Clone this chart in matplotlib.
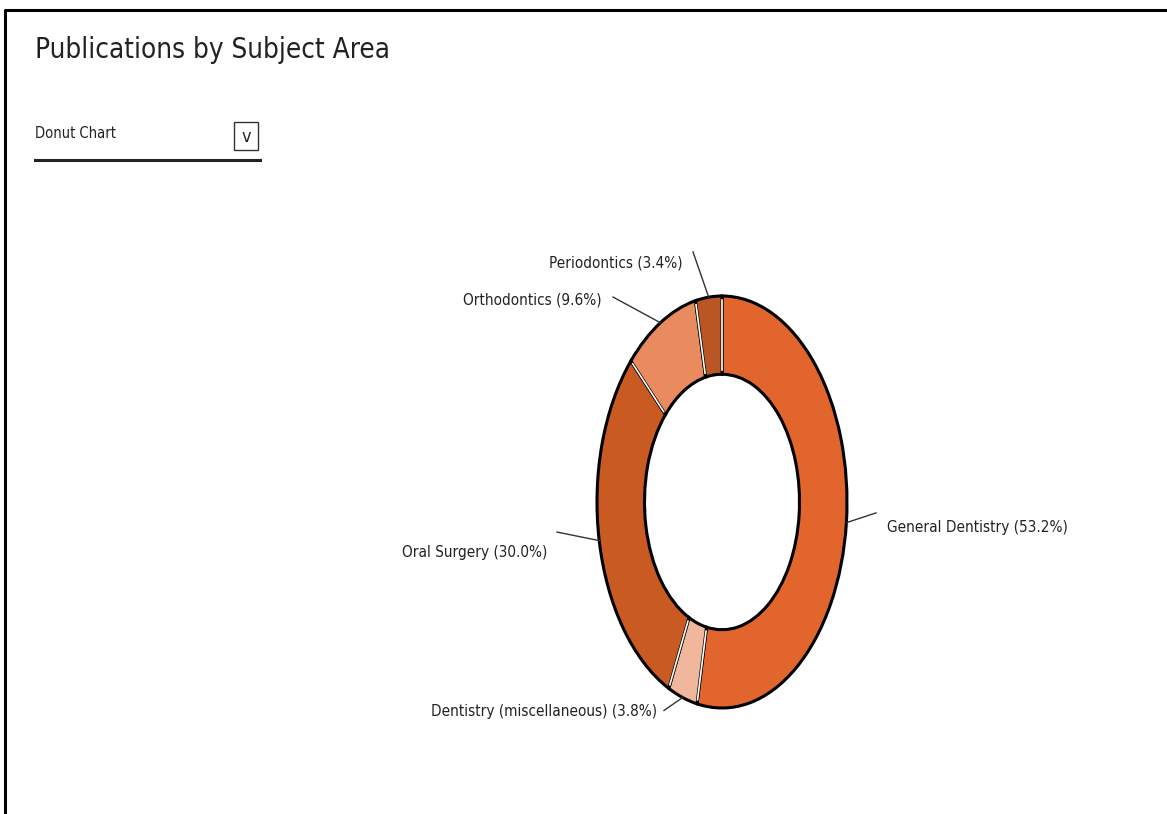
import numpy as np
import matplotlib.pyplot as plt
from matplotlib.patches import Rectangle

# subject areas, clockwise from 12 o'clock
subjects = ['General Dentistry', 'Dentistry (miscellaneous)', 'Oral Surgery',
            'Orthodontics', 'Periodontics']
shares = [53.2, 3.8, 30.0, 9.6, 3.4]
colors = ['#E2652D', '#F0B79D', '#C95B22', '#E98B5F', '#BA5524']

# where each label / leader line ends (data coords of the pie axes)
label_pos = [(1.32, -0.126, 'left'), (-0.52, -1.019, 'right'), (-1.40, -0.243, 'right'),
             (-0.96, 0.981, 'right'), (-0.312, 1.160, 'right')]
line_end = [(1.232, -0.053), (-0.464, -1.012), (-1.32, -0.146),
            (-0.872, 0.995), (-0.232, 1.214)]

font = dict(family='DejaVu Sans', stretch='condensed', color='#222222')

fig = plt.figure(figsize=(11.67, 8.14), dpi=100)
W, H = 1167, 814

# screenshot frame (top and left edges only)
fig.add_artist(plt.Line2D([5 / W, 5 / W, 1], [0, 1 - 10 / H, 1 - 10 / H],
                          color='black', linewidth=2.2, transform=fig.transFigure))

fig.text(35 / W, 1 - 50 / H, 'Publications by Subject Area', fontsize=20,
         va='center', ha='left', **font)
fig.text(35 / W, 1 - 133 / H, 'Donut Chart', fontsize=10.5, va='center', ha='left', **font)
fig.add_artist(plt.Line2D([35 / W, 260 / W], [1 - 160 / H, 1 - 160 / H],
                          color='#222222', linewidth=2.2, transform=fig.transFigure))
fig.patches.append(Rectangle((234 / W, 1 - 150 / H), 24 / W, 28 / H, transform=fig.transFigure,
                             fill=False, edgecolor='#333333', linewidth=1))
fig.text(246 / W, 1 - 137 / H, 'v', fontsize=13, va='center', ha='center', **font)

# donut axes: ellipse centre (722, 502), radii 125 x 206 px
cx, cy, rx, ry = 722, 502, 125, 206
ring = 0.38
ax = fig.add_axes([(cx - 1.25 * rx) / W, (H - cy - 1.25 * ry) / H, 2.5 * rx / W, 2.5 * ry / H])
wedges, _ = ax.pie(shares, colors=colors, startangle=90, counterclock=False,
                   wedgeprops=dict(width=ring, edgecolor='black', linewidth=2.2))
ax.set_aspect('auto')
ax.set_xlim(-1.25, 1.25)
ax.set_ylim(-1.25, 1.25)
ax.axis('off')

# thin white gap along each slice boundary
for w in wedges:
    a = np.deg2rad(w.theta1)
    r = np.array([1 - ring + 0.02, 0.98])
    ax.plot(r * np.cos(a), r * np.sin(a), color='white', linewidth=1.2)

for w, name, share, (tx, ty, ha), (ex, ey) in zip(wedges, subjects, shares, label_pos, line_end):
    mid = np.deg2rad((w.theta1 + w.theta2) / 2)
    sx, sy = np.cos(mid), np.sin(mid)
    ax.plot([sx, ex], [sy, ey], color='#333333', linewidth=1, clip_on=False)
    ax.text(tx, ty, f'{name} ({share:.1f}%)', fontsize=11, ha=ha, va='center',
            clip_on=False, **font)

fig.savefig('out.png', dpi=100)
